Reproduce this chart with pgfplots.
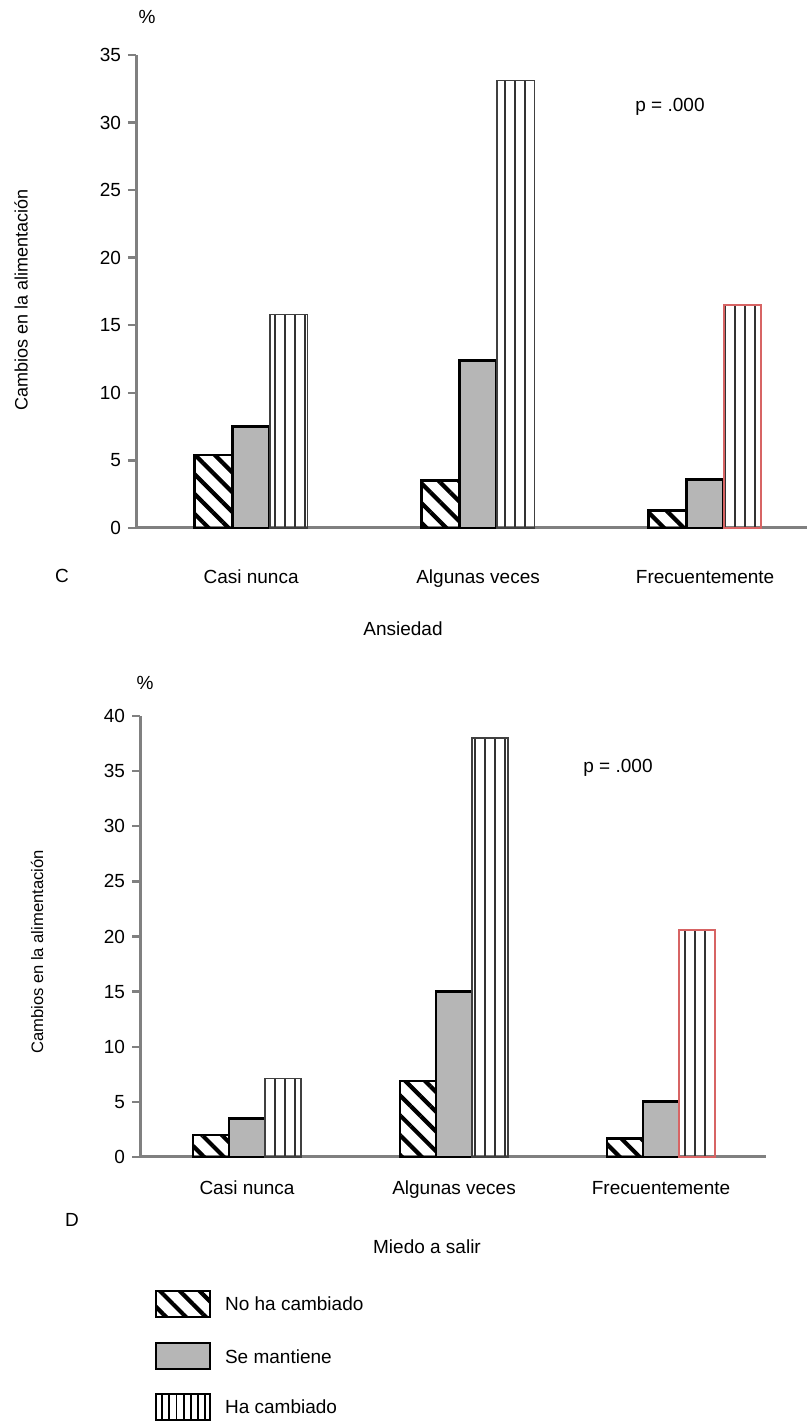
\documentclass[border=0pt]{standalone}
\usepackage{fontspec}
\setmainfont{Liberation Sans}
\usepackage{pgfplots}
\pgfplotsset{compat=1.18}
\usetikzlibrary{patterns,patterns.meta}
\definecolor{axgray}{RGB}{128,128,128}
\definecolor{bargray}{RGB}{182,182,182}
\definecolor{redline}{RGB}{215,100,100}
\pgfdeclarepatternformonly{vlines}{\pgfqpoint{-1pt}{-2pt}}{\pgfqpoint{6pt}{302pt}}{\pgfqpoint{5pt}{300pt}}{%
 \pgfsetlinewidth{1pt}%
 \pgfpathmoveto{\pgfqpoint{2.5pt}{-2pt}}%
 \pgfpathlineto{\pgfqpoint{2.5pt}{302pt}}%
 \pgfusepath{stroke}%
}
\pgfdeclarepatternformonly{vlinesL}{\pgfqpoint{-1pt}{-2pt}}{\pgfqpoint{4.6pt}{102pt}}{\pgfqpoint{3.6pt}{100pt}}{%
 \pgfsetlinewidth{0.9pt}%
 \pgfpathmoveto{\pgfqpoint{1.8pt}{-2pt}}%
 \pgfpathlineto{\pgfqpoint{1.8pt}{102pt}}%
 \pgfusepath{stroke}%
}
\tikzset{
 hatchbar/.style={draw=black, line width=1.4pt, pattern={Lines[angle=-45,distance=7pt,line width=2.1pt]}, pattern color=black},
 graybar/.style={draw=black, line width=1.4pt, fill=bargray},
 vbar/.style={draw=black!75, line width=0.7pt, pattern=vlines, pattern color=black!80},
 vbarred/.style={draw=redline, line width=0.9pt, pattern=vlines, pattern color=black!80},
}
\pgfplotsset{
 mystyle/.style={
  scale only axis, ymin=0,
  axis x line*=bottom, axis y line*=left,
  axis line style={draw=axgray, line width=1.5pt, -},
  xtick={0,1,2}, xticklabels={Casi nunca, Algunas veces, Frecuentemente},
  x tick style={draw=none},
  y tick style={draw=axgray, line width=1.2pt},
  tick align=outside, major tick length=4pt,
  yticklabel style={font=\fontsize{9.5}{11}\selectfont},
  /pgf/number format/assume math mode=true,
  clip=false,
 }
}
\newcommand{\tf}{\fontsize{9.5}{11}\selectfont}
\begin{document}
\begin{tikzpicture}
% ---- Chart C ----
\begin{axis}[mystyle,
 at={(68pt,450pt)}, anchor=south west,
 width=335.5pt, height=236.5pt,
 xmin=-0.507, xmax=2.449, ymax=35,
 ytick={0,5,...,35},
 xticklabel style={anchor=center, text height=1.6ex, text depth=0.4ex, yshift=-20.5pt, font=\tf},
]
\addplot[ybar, bar width=18.75pt, bar shift=-18.75pt, hatchbar] coordinates {(0,5.4) (1,3.5) (2,1.3)};
\addplot[ybar, bar width=18.75pt, bar shift=0pt, graybar] coordinates {(0,7.5) (1,12.4) (2,3.6)};
\addplot[ybar, bar width=18.75pt, bar shift=18.75pt, vbar] coordinates {(0,15.8) (1,33.1)};
\addplot[ybar, bar width=18.75pt, bar shift=18.75pt, vbarred] coordinates {(2,16.5)};
\end{axis}
% ---- Chart D ----
\begin{axis}[mystyle,
 at={(70pt,135.5pt)}, anchor=south west,
 width=313pt, height=220.5pt,
 xmin=-0.517, xmax=2.507, ymax=40,
 ytick={0,5,...,40},
 xticklabel style={anchor=center, text height=1.6ex, text depth=0.4ex, yshift=-11.5pt, font=\tf},
]
\addplot[ybar, bar width=18pt, bar shift=-18pt, hatchbar] coordinates {(0,2.0) (1,6.9) (2,1.7)};
\addplot[ybar, bar width=18pt, bar shift=0pt, graybar] coordinates {(0,3.5) (1,15.0) (2,5.0)};
\addplot[ybar, bar width=18pt, bar shift=18pt, vbar] coordinates {(0,7.1) (1,38.0)};
\addplot[ybar, bar width=18pt, bar shift=18pt, vbarred] coordinates {(2,20.6)};
\end{axis}
% ---- texts and legend (pixel coordinates) ----
\begin{scope}[x=0.5pt, y=-0.5pt, yshift=714pt]
 \node[font=\tf] at (147,17) {\%};
 \node[font=\tf] at (670,107) {p = .000};
 \node[font=\tf] at (62,576) {C};
 \node[font=\tf] at (403,629) {Ansiedad};
 \node[font=\fontsize{9}{11}\selectfont, rotate=90] at (21,300) {Cambios en la alimentación};
 \node[font=\tf] at (145,683) {\%};
 \node[font=\tf] at (618,768) {p = .000};
 \node[font=\tf] at (72,1220) {D};
 \node[font=\tf] at (427,1247) {Miedo a salir};
 \node[font=\fontsize{8.3}{10}\selectfont, rotate=90] at (37,952) {Cambios en la alimentación};
 % legend
 \draw[hatchbar] (156,1291) rectangle (210,1317);
 \draw[graybar] (156,1343) rectangle (210,1369);
 \draw[draw=black, line width=1.4pt, pattern=vlinesL, pattern color=black] (156,1394) rectangle (210,1420);
 \node[font=\tf, anchor=west] at (218,1304) {No ha cambiado};
 \node[font=\tf, anchor=west] at (218,1357) {Se mantiene};
 \node[font=\tf, anchor=west] at (218,1407) {Ha cambiado};
\end{scope}
\pgfresetboundingbox
\useasboundingbox (0,0) rectangle (403.5pt,714pt);
\end{tikzpicture}
\end{document}
